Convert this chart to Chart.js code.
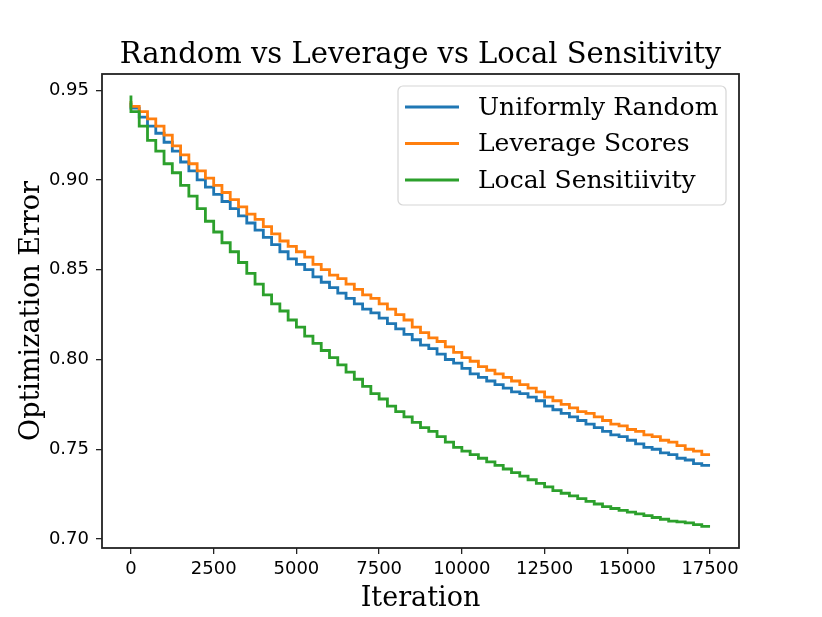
<!DOCTYPE html>
<html>
<head>
<meta charset="utf-8">
<title>Random vs Leverage vs Local Sensitivity</title>
<script src="https://cdn.jsdelivr.net/npm/chart.js@4.4.1/dist/chart.umd.min.js"></script>
<style>
    html, body { margin: 0; padding: 0; background: #fff; }
    canvas { display: block; }
</style>
</head>
<body>
<canvas id="chart" width="822" height="617"></canvas>
<script>
// 迭代次数（每 250 次一个台阶）
const iterations = [
    0, 250, 500, 750, 1000, 1250, 1500, 1750, 2000, 2250,
    2500, 2750, 3000, 3250, 3500, 3750, 4000, 4250, 4500, 4750,
    5000, 5250, 5500, 5750, 6000, 6250, 6500, 6750, 7000, 7250,
    7500, 7750, 8000, 8250, 8500, 8750, 9000, 9250, 9500, 9750,
    10000, 10250, 10500, 10750, 11000, 11250, 11500, 11750, 12000, 12250,
    12500, 12750, 13000, 13250, 13500, 13750, 14000, 14250, 14500, 14750,
    15000, 15250, 15500, 15750, 16000, 16250, 16500, 16750, 17000, 17250,
    17500
];

// 三条曲线的数值
const uniformRandom = [
    0.943, 0.940, 0.935, 0.930, 0.926, 0.921, 0.916, 0.910, 0.905, 0.900,
    0.896, 0.892, 0.888, 0.884, 0.880, 0.876, 0.872, 0.868, 0.864, 0.860,
    0.856, 0.853, 0.850, 0.846, 0.843, 0.840, 0.837, 0.834, 0.831, 0.828,
    0.826, 0.823, 0.820, 0.817, 0.814, 0.811, 0.808, 0.806, 0.803, 0.800,
    0.798, 0.795, 0.792, 0.790, 0.788, 0.786, 0.784, 0.782, 0.781, 0.779,
    0.777, 0.774, 0.772, 0.770, 0.768, 0.766, 0.764, 0.762, 0.760, 0.758,
    0.757, 0.755, 0.753, 0.751, 0.750, 0.748, 0.747, 0.745, 0.744, 0.742,
    0.741
];
const leverageScores = [
    0.944, 0.941, 0.938, 0.934, 0.930, 0.925, 0.919, 0.914, 0.909, 0.905,
    0.901, 0.897, 0.893, 0.889, 0.885, 0.881, 0.878, 0.874, 0.870, 0.866,
    0.863, 0.860, 0.857, 0.853, 0.850, 0.847, 0.845, 0.842, 0.839, 0.836,
    0.834, 0.831, 0.828, 0.825, 0.822, 0.818, 0.815, 0.812, 0.810, 0.807,
    0.804, 0.801, 0.799, 0.796, 0.794, 0.792, 0.790, 0.788, 0.786, 0.784,
    0.782, 0.779, 0.777, 0.775, 0.773, 0.771, 0.770, 0.768, 0.766, 0.764,
    0.763, 0.761, 0.760, 0.758, 0.757, 0.755, 0.754, 0.752, 0.750, 0.749,
    0.747
];
const localSensitivity = [
    0.947, 0.938, 0.930, 0.922, 0.916, 0.909, 0.904, 0.897, 0.891, 0.884,
    0.877, 0.871, 0.865, 0.860, 0.854, 0.848, 0.842, 0.836, 0.831, 0.827,
    0.822, 0.818, 0.813, 0.809, 0.805, 0.801, 0.797, 0.793, 0.789, 0.785,
    0.781, 0.778, 0.774, 0.771, 0.768, 0.765, 0.762, 0.760, 0.757, 0.754,
    0.751, 0.749, 0.747, 0.745, 0.743, 0.741, 0.739, 0.737, 0.735, 0.733,
    0.731, 0.729, 0.727, 0.7255, 0.724, 0.7225, 0.721, 0.7195, 0.718, 0.717,
    0.716, 0.715, 0.714, 0.713, 0.712, 0.711, 0.710, 0.7095, 0.709, 0.708,
    0.707
];

// 刻度
const xTicks = [0, 2500, 5000, 7500, 10000, 12500, 15000, 17500];
const yTicks = [0.70, 0.75, 0.80, 0.85, 0.90, 0.95];

const seriesNames = ['Uniformly Random', 'Leverage Scores', 'Local Sensitiivity'];
const seriesColors = ['#1f77b4', '#ff7f0e', '#2ca02c'];

const serif = "'DejaVu Serif', 'Liberation Serif', serif";
const sans = "'DejaVu Sans', 'Liberation Sans', sans-serif";

function toPoints(values) {
    return iterations.map((x, i) => ({ x: x, y: values[i] }));
}

// 标题、边框和图例
const overlay = {
    id: 'overlay',
    afterDraw(chart) {
        const { ctx, chartArea: a } = chart;
        ctx.save();

        // 边框
        ctx.strokeStyle = '#222';
        ctx.lineWidth = 1.8;
        ctx.strokeRect(a.left, a.top, a.right - a.left, a.bottom - a.top);

        // 标题
        ctx.fillStyle = '#000';
        ctx.font = '29px ' + serif;
        ctx.textAlign = 'center';
        ctx.textBaseline = 'middle';
        ctx.fillText('Random vs Leverage vs Local Sensitivity', (a.left + a.right) / 2, 55);

        // 图例
        const bx = 398, by = 86, bw = 328, bh = 119, r = 5;
        ctx.beginPath();
        ctx.roundRect(bx, by, bw, bh, r);
        ctx.fillStyle = 'rgba(255,255,255,0.8)';
        ctx.fill();
        ctx.strokeStyle = '#d6d6d6';
        ctx.lineWidth = 1.2;
        ctx.stroke();

        ctx.font = '25px ' + serif;
        ctx.textAlign = 'left';
        chart.data.datasets.forEach((ds, i) => {
            const y = 107 + i * 36.5;
            ctx.strokeStyle = ds.borderColor;
            ctx.lineWidth = 3;
            ctx.beginPath();
            ctx.moveTo(405, y);
            ctx.lineTo(459, y);
            ctx.stroke();
            ctx.fillStyle = '#000';
            ctx.fillText(ds.label, 478, y + 1);
        });

        ctx.restore();
    }
};

document.addEventListener('DOMContentLoaded', () => {
    const ctx = document.getElementById('chart');
    const allSeries = [uniformRandom, leverageScores, localSensitivity];

    new Chart(ctx, {
        type: 'line',
        data: {
            datasets: allSeries.map((values, i) => ({
                label: seriesNames[i],
                data: toPoints(values),
                borderColor: seriesColors[i],
                backgroundColor: seriesColors[i],
                borderWidth: 2.8,
                pointRadius: 0,
                stepped: 'after',
                fill: false,
                order: 2 - i
            }))
        },
        options: {
            responsive: false,
            animation: false,
            devicePixelRatio: 1,
            layout: { padding: { top: 74, right: 83, left: 0, bottom: 0 } },
            plugins: {
                legend: { display: false },
                title: { display: false },
                tooltip: { enabled: false }
            },
            scales: {
                x: {
                    type: 'linear',
                    min: -875,
                    max: 18375,
                    afterBuildTicks: s => { s.ticks = xTicks.map(v => ({ value: v })); },
                    afterFit: s => { s.height = 69; },
                    border: { display: false },
                    grid: { drawOnChartArea: false, drawTicks: true, tickLength: 6, color: '#222', lineWidth: 1.3 },
                    ticks: {
                        color: '#000',
                        font: { family: sans, size: 18 },
                        padding: 5,
                        maxRotation: 0,
                        callback: v => String(v)
                    },
                    title: {
                        display: true,
                        text: 'Iteration',
                        color: '#000',
                        font: { family: serif, size: 27 },
                        padding: { top: 0, bottom: 2 }
                    }
                },
                y: {
                    min: 0.695,
                    max: 0.959,
                    afterBuildTicks: s => { s.ticks = yTicks.map(v => ({ value: v })); },
                    afterFit: s => { s.width = 102; },
                    border: { display: false },
                    grid: { drawOnChartArea: false, drawTicks: true, tickLength: 6, color: '#222', lineWidth: 1.3 },
                    ticks: {
                        color: '#000',
                        font: { family: sans, size: 18 },
                        padding: 7,
                        callback: v => v.toFixed(2)
                    },
                    title: {
                        display: true,
                        text: 'Optimization Error',
                        color: '#000',
                        font: { family: serif, size: 27 },
                        padding: { top: 16, bottom: 0 }
                    }
                }
            }
        },
        plugins: [overlay]
    });
});
</script>
</body>
</html>
